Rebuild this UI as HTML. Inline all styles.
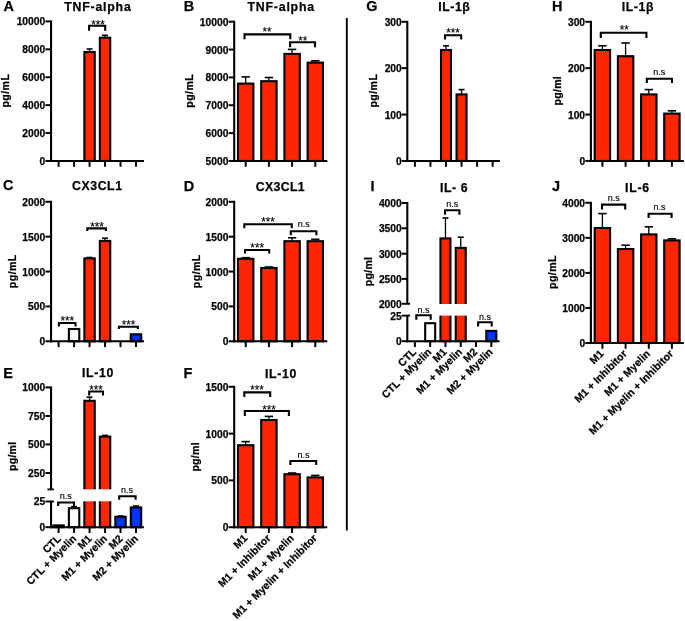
<!DOCTYPE html>
<html>
<head>
<meta charset="utf-8">
<title>Figure</title>
<style>
html,body{margin:0;padding:0;background:#fff;}
body{width:685px;height:621px;overflow:hidden;}
svg{display:block;font-family:"Liberation Sans",sans-serif;fill:#000;}
</style>
</head>
<body>
<svg width="685" height="621" viewBox="0 0 685 621">
<rect x="0" y="0" width="685" height="621" fill="#fff"/>
<g opacity="0.999">
<text x="3.5" y="11.2" font-size="13.8" font-weight="bold" stroke="#000" stroke-width="0.25" textLength="10.46" lengthAdjust="spacingAndGlyphs">A</text>
<text x="97.5" y="11" font-size="12.3" font-weight="bold" stroke="#000" stroke-width="0.25" text-anchor="middle" textLength="66.5" lengthAdjust="spacing">TNF-alpha</text>
<line x1="89.56" y1="49" x2="89.56" y2="52" stroke="#000" stroke-width="1.3" stroke-linecap="butt"/>
<line x1="86.56" y1="49" x2="92.56" y2="49" stroke="#000" stroke-width="1.6" stroke-linecap="butt"/>
<rect x="84.36" y="52" width="10.4" height="108.95" fill="#FF2600" stroke="#000" stroke-width="2.1"/>
<line x1="105.04" y1="35.3" x2="105.04" y2="37.7" stroke="#000" stroke-width="1.3" stroke-linecap="butt"/>
<line x1="102.04" y1="35.3" x2="108.04" y2="35.3" stroke="#000" stroke-width="1.6" stroke-linecap="butt"/>
<rect x="99.84" y="37.7" width="10.4" height="123.25" fill="#FF2600" stroke="#000" stroke-width="2.1"/>
<line x1="51.05" y1="20.4" x2="51.05" y2="162" stroke="#000" stroke-width="2.1" stroke-linecap="butt"/>
<line x1="45.45" y1="160.95" x2="51.05" y2="160.95" stroke="#000" stroke-width="2" stroke-linecap="butt"/>
<text x="45.25" y="164.95" font-size="10.6" font-weight="bold" stroke="#000" stroke-width="0.25" text-anchor="end" textLength="5.72" lengthAdjust="spacingAndGlyphs">0</text>
<line x1="45.45" y1="133.04" x2="51.05" y2="133.04" stroke="#000" stroke-width="2" stroke-linecap="butt"/>
<text x="45.25" y="137.04" font-size="10.6" font-weight="bold" stroke="#000" stroke-width="0.25" text-anchor="end" textLength="22.88" lengthAdjust="spacingAndGlyphs">2000</text>
<line x1="45.45" y1="105.13" x2="51.05" y2="105.13" stroke="#000" stroke-width="2" stroke-linecap="butt"/>
<text x="45.25" y="109.13" font-size="10.6" font-weight="bold" stroke="#000" stroke-width="0.25" text-anchor="end" textLength="22.88" lengthAdjust="spacingAndGlyphs">4000</text>
<line x1="45.45" y1="77.22" x2="51.05" y2="77.22" stroke="#000" stroke-width="2" stroke-linecap="butt"/>
<text x="45.25" y="81.22" font-size="10.6" font-weight="bold" stroke="#000" stroke-width="0.25" text-anchor="end" textLength="22.88" lengthAdjust="spacingAndGlyphs">6000</text>
<line x1="45.45" y1="49.31" x2="51.05" y2="49.31" stroke="#000" stroke-width="2" stroke-linecap="butt"/>
<text x="45.25" y="53.31" font-size="10.6" font-weight="bold" stroke="#000" stroke-width="0.25" text-anchor="end" textLength="22.88" lengthAdjust="spacingAndGlyphs">8000</text>
<line x1="45.45" y1="21.4" x2="51.05" y2="21.4" stroke="#000" stroke-width="2" stroke-linecap="butt"/>
<text x="45.25" y="25.4" font-size="10.6" font-weight="bold" stroke="#000" stroke-width="0.25" text-anchor="end" textLength="28.6" lengthAdjust="spacingAndGlyphs">10000</text>
<line x1="50" y1="160.95" x2="144" y2="160.95" stroke="#000" stroke-width="2.1" stroke-linecap="butt"/>
<line x1="58.6" y1="160.95" x2="58.6" y2="166.75" stroke="#000" stroke-width="2" stroke-linecap="butt"/>
<line x1="74.08" y1="160.95" x2="74.08" y2="166.75" stroke="#000" stroke-width="2" stroke-linecap="butt"/>
<line x1="89.56" y1="160.95" x2="89.56" y2="166.75" stroke="#000" stroke-width="2" stroke-linecap="butt"/>
<line x1="105.04" y1="160.95" x2="105.04" y2="166.75" stroke="#000" stroke-width="2" stroke-linecap="butt"/>
<line x1="120.52" y1="160.95" x2="120.52" y2="166.75" stroke="#000" stroke-width="2" stroke-linecap="butt"/>
<line x1="136" y1="160.95" x2="136" y2="166.75" stroke="#000" stroke-width="2" stroke-linecap="butt"/>
<text font-size="10.6" font-weight="bold" stroke="#000" stroke-width="0.25" text-anchor="middle" textLength="33.5" lengthAdjust="spacing" transform="translate(9.4,90.8) rotate(-90)">pg/mL</text>
<path d="M89.1 30.7 V25.7 H105.2 V30.7" fill="none" stroke="#000" stroke-width="2.1" stroke-linejoin="miter"/>
<text x="98" y="29.05" font-size="12.6" stroke="#000" stroke-width="0.12" text-anchor="middle" textLength="13.71" lengthAdjust="spacingAndGlyphs">***</text>
<text x="183.7" y="11.2" font-size="13.8" font-weight="bold" stroke="#000" stroke-width="0.25" textLength="10.46" lengthAdjust="spacingAndGlyphs">B</text>
<text x="280.8" y="11" font-size="12.3" font-weight="bold" stroke="#000" stroke-width="0.25" text-anchor="middle" textLength="66.5" lengthAdjust="spacing">TNF-alpha</text>
<line x1="245.7" y1="76.9" x2="245.7" y2="83.6" stroke="#000" stroke-width="1.3" stroke-linecap="butt"/>
<line x1="241.5" y1="76.9" x2="249.9" y2="76.9" stroke="#000" stroke-width="1.6" stroke-linecap="butt"/>
<rect x="238" y="83.6" width="15.4" height="77.35" fill="#FF2600" stroke="#000" stroke-width="2.1"/>
<line x1="268.9" y1="77.5" x2="268.9" y2="81.2" stroke="#000" stroke-width="1.3" stroke-linecap="butt"/>
<line x1="264.7" y1="77.5" x2="273.1" y2="77.5" stroke="#000" stroke-width="1.6" stroke-linecap="butt"/>
<rect x="261.2" y="81.2" width="15.4" height="79.75" fill="#FF2600" stroke="#000" stroke-width="2.1"/>
<line x1="292.1" y1="49.4" x2="292.1" y2="53.9" stroke="#000" stroke-width="1.3" stroke-linecap="butt"/>
<line x1="287.9" y1="49.4" x2="296.3" y2="49.4" stroke="#000" stroke-width="1.6" stroke-linecap="butt"/>
<rect x="284.4" y="53.9" width="15.4" height="107.05" fill="#FF2600" stroke="#000" stroke-width="2.1"/>
<line x1="315.3" y1="60.8" x2="315.3" y2="62.6" stroke="#000" stroke-width="1.3" stroke-linecap="butt"/>
<line x1="311.1" y1="60.8" x2="319.5" y2="60.8" stroke="#000" stroke-width="1.6" stroke-linecap="butt"/>
<rect x="307.6" y="62.6" width="15.4" height="98.35" fill="#FF2600" stroke="#000" stroke-width="2.1"/>
<line x1="234.2" y1="20.7" x2="234.2" y2="162" stroke="#000" stroke-width="2.1" stroke-linecap="butt"/>
<line x1="228.6" y1="160.95" x2="234.2" y2="160.95" stroke="#000" stroke-width="2" stroke-linecap="butt"/>
<text x="228.4" y="164.95" font-size="10.6" font-weight="bold" stroke="#000" stroke-width="0.25" text-anchor="end" textLength="22.88" lengthAdjust="spacingAndGlyphs">5000</text>
<line x1="228.6" y1="133.1" x2="234.2" y2="133.1" stroke="#000" stroke-width="2" stroke-linecap="butt"/>
<text x="228.4" y="137.1" font-size="10.6" font-weight="bold" stroke="#000" stroke-width="0.25" text-anchor="end" textLength="22.88" lengthAdjust="spacingAndGlyphs">6000</text>
<line x1="228.6" y1="105.25" x2="234.2" y2="105.25" stroke="#000" stroke-width="2" stroke-linecap="butt"/>
<text x="228.4" y="109.25" font-size="10.6" font-weight="bold" stroke="#000" stroke-width="0.25" text-anchor="end" textLength="22.88" lengthAdjust="spacingAndGlyphs">7000</text>
<line x1="228.6" y1="77.4" x2="234.2" y2="77.4" stroke="#000" stroke-width="2" stroke-linecap="butt"/>
<text x="228.4" y="81.4" font-size="10.6" font-weight="bold" stroke="#000" stroke-width="0.25" text-anchor="end" textLength="22.88" lengthAdjust="spacingAndGlyphs">8000</text>
<line x1="228.6" y1="49.55" x2="234.2" y2="49.55" stroke="#000" stroke-width="2" stroke-linecap="butt"/>
<text x="228.4" y="53.55" font-size="10.6" font-weight="bold" stroke="#000" stroke-width="0.25" text-anchor="end" textLength="22.88" lengthAdjust="spacingAndGlyphs">9000</text>
<line x1="228.6" y1="21.7" x2="234.2" y2="21.7" stroke="#000" stroke-width="2" stroke-linecap="butt"/>
<text x="228.4" y="25.7" font-size="10.6" font-weight="bold" stroke="#000" stroke-width="0.25" text-anchor="end" textLength="28.6" lengthAdjust="spacingAndGlyphs">10000</text>
<line x1="233.15" y1="160.95" x2="327.3" y2="160.95" stroke="#000" stroke-width="2.1" stroke-linecap="butt"/>
<line x1="245.7" y1="160.95" x2="245.7" y2="166.75" stroke="#000" stroke-width="2" stroke-linecap="butt"/>
<line x1="268.9" y1="160.95" x2="268.9" y2="166.75" stroke="#000" stroke-width="2" stroke-linecap="butt"/>
<line x1="292.1" y1="160.95" x2="292.1" y2="166.75" stroke="#000" stroke-width="2" stroke-linecap="butt"/>
<line x1="315.3" y1="160.95" x2="315.3" y2="166.75" stroke="#000" stroke-width="2" stroke-linecap="butt"/>
<text font-size="10.6" font-weight="bold" stroke="#000" stroke-width="0.25" text-anchor="middle" textLength="33.5" lengthAdjust="spacing" transform="translate(193,91) rotate(-90)">pg/mL</text>
<path d="M244.5 39.3 V34.4 H290.3 V39.3" fill="none" stroke="#000" stroke-width="2.1" stroke-linejoin="miter"/>
<text x="267.1" y="36.35" font-size="12.6" stroke="#000" stroke-width="0.12" text-anchor="middle" textLength="9.14" lengthAdjust="spacingAndGlyphs">**</text>
<path d="M290.1 47.2 V42.3 H315 V47.2" fill="none" stroke="#000" stroke-width="2.1" stroke-linejoin="miter"/>
<text x="302.7" y="44.65" font-size="12.6" stroke="#000" stroke-width="0.12" text-anchor="middle" textLength="9.14" lengthAdjust="spacingAndGlyphs">**</text>
<text x="3.1" y="190.2" font-size="13.8" font-weight="bold" stroke="#000" stroke-width="0.25" textLength="10.46" lengthAdjust="spacingAndGlyphs">C</text>
<text x="97" y="190.2" font-size="12.3" font-weight="bold" stroke="#000" stroke-width="0.25" text-anchor="middle" textLength="50" lengthAdjust="spacing">CX3CL1</text>
<rect x="68.88" y="329" width="10.4" height="12.3" fill="#FFFFFF" stroke="#000" stroke-width="2.1"/>
<line x1="89.56" y1="257.5" x2="89.56" y2="258.4" stroke="#000" stroke-width="1.3" stroke-linecap="butt"/>
<line x1="86.56" y1="257.5" x2="92.56" y2="257.5" stroke="#000" stroke-width="1.6" stroke-linecap="butt"/>
<rect x="84.36" y="258.4" width="10.4" height="82.9" fill="#FF2600" stroke="#000" stroke-width="2.1"/>
<line x1="105.04" y1="238.2" x2="105.04" y2="240.9" stroke="#000" stroke-width="1.3" stroke-linecap="butt"/>
<line x1="102.04" y1="238.2" x2="108.04" y2="238.2" stroke="#000" stroke-width="1.6" stroke-linecap="butt"/>
<rect x="99.84" y="240.9" width="10.4" height="100.4" fill="#FF2600" stroke="#000" stroke-width="2.1"/>
<rect x="130.8" y="334.3" width="10.4" height="7" fill="#0433FF" stroke="#000" stroke-width="2.1"/>
<line x1="51.05" y1="200.8" x2="51.05" y2="342.35" stroke="#000" stroke-width="2.1" stroke-linecap="butt"/>
<line x1="45.45" y1="341.3" x2="51.05" y2="341.3" stroke="#000" stroke-width="2" stroke-linecap="butt"/>
<text x="45.25" y="345.3" font-size="10.6" font-weight="bold" stroke="#000" stroke-width="0.25" text-anchor="end" textLength="5.72" lengthAdjust="spacingAndGlyphs">0</text>
<line x1="45.45" y1="306.43" x2="51.05" y2="306.43" stroke="#000" stroke-width="2" stroke-linecap="butt"/>
<text x="45.25" y="310.43" font-size="10.6" font-weight="bold" stroke="#000" stroke-width="0.25" text-anchor="end" textLength="17.16" lengthAdjust="spacingAndGlyphs">500</text>
<line x1="45.45" y1="271.55" x2="51.05" y2="271.55" stroke="#000" stroke-width="2" stroke-linecap="butt"/>
<text x="45.25" y="275.55" font-size="10.6" font-weight="bold" stroke="#000" stroke-width="0.25" text-anchor="end" textLength="22.88" lengthAdjust="spacingAndGlyphs">1000</text>
<line x1="45.45" y1="236.68" x2="51.05" y2="236.68" stroke="#000" stroke-width="2" stroke-linecap="butt"/>
<text x="45.25" y="240.68" font-size="10.6" font-weight="bold" stroke="#000" stroke-width="0.25" text-anchor="end" textLength="22.88" lengthAdjust="spacingAndGlyphs">1500</text>
<line x1="45.45" y1="201.8" x2="51.05" y2="201.8" stroke="#000" stroke-width="2" stroke-linecap="butt"/>
<text x="45.25" y="205.8" font-size="10.6" font-weight="bold" stroke="#000" stroke-width="0.25" text-anchor="end" textLength="22.88" lengthAdjust="spacingAndGlyphs">2000</text>
<line x1="50" y1="341.3" x2="144" y2="341.3" stroke="#000" stroke-width="2.1" stroke-linecap="butt"/>
<line x1="58.6" y1="341.3" x2="58.6" y2="347.1" stroke="#000" stroke-width="2" stroke-linecap="butt"/>
<line x1="74.08" y1="341.3" x2="74.08" y2="347.1" stroke="#000" stroke-width="2" stroke-linecap="butt"/>
<line x1="89.56" y1="341.3" x2="89.56" y2="347.1" stroke="#000" stroke-width="2" stroke-linecap="butt"/>
<line x1="105.04" y1="341.3" x2="105.04" y2="347.1" stroke="#000" stroke-width="2" stroke-linecap="butt"/>
<line x1="120.52" y1="341.3" x2="120.52" y2="347.1" stroke="#000" stroke-width="2" stroke-linecap="butt"/>
<line x1="136" y1="341.3" x2="136" y2="347.1" stroke="#000" stroke-width="2" stroke-linecap="butt"/>
<text font-size="10.6" font-weight="bold" stroke="#000" stroke-width="0.25" text-anchor="middle" textLength="33.5" lengthAdjust="spacing" transform="translate(16.4,271.4) rotate(-90)">pg/mL</text>
<path d="M58.9 326.4 V323 H75.5 V326.4" fill="none" stroke="#000" stroke-width="2.1" stroke-linejoin="miter"/>
<text x="67.3" y="324.95" font-size="12.6" stroke="#000" stroke-width="0.12" text-anchor="middle" textLength="13.71" lengthAdjust="spacingAndGlyphs">***</text>
<path d="M87.3 231 V228.4 H105.9 V231" fill="none" stroke="#000" stroke-width="2.1" stroke-linejoin="miter"/>
<text x="97" y="230.75" font-size="12.6" stroke="#000" stroke-width="0.12" text-anchor="middle" textLength="13.71" lengthAdjust="spacingAndGlyphs">***</text>
<path d="M118.9 329 V326.7 H137.9 V329" fill="none" stroke="#000" stroke-width="2.1" stroke-linejoin="miter"/>
<text x="128.6" y="328.55" font-size="12.6" stroke="#000" stroke-width="0.12" text-anchor="middle" textLength="13.71" lengthAdjust="spacingAndGlyphs">***</text>
<text x="183.7" y="190.8" font-size="13.8" font-weight="bold" stroke="#000" stroke-width="0.25" textLength="10.46" lengthAdjust="spacingAndGlyphs">D</text>
<text x="280.2" y="190.8" font-size="12.3" font-weight="bold" stroke="#000" stroke-width="0.25" text-anchor="middle" textLength="49" lengthAdjust="spacing">CX3CL1</text>
<line x1="245.7" y1="257.7" x2="245.7" y2="258.8" stroke="#000" stroke-width="1.3" stroke-linecap="butt"/>
<line x1="241.5" y1="257.7" x2="249.9" y2="257.7" stroke="#000" stroke-width="1.6" stroke-linecap="butt"/>
<rect x="238" y="258.8" width="15.4" height="82.5" fill="#FF2600" stroke="#000" stroke-width="2.1"/>
<line x1="268.9" y1="267" x2="268.9" y2="268" stroke="#000" stroke-width="1.3" stroke-linecap="butt"/>
<line x1="264.7" y1="267" x2="273.1" y2="267" stroke="#000" stroke-width="1.6" stroke-linecap="butt"/>
<rect x="261.2" y="268" width="15.4" height="73.3" fill="#FF2600" stroke="#000" stroke-width="2.1"/>
<line x1="292.1" y1="237.8" x2="292.1" y2="241.2" stroke="#000" stroke-width="1.3" stroke-linecap="butt"/>
<line x1="287.9" y1="237.8" x2="296.3" y2="237.8" stroke="#000" stroke-width="1.6" stroke-linecap="butt"/>
<rect x="284.4" y="241.2" width="15.4" height="100.1" fill="#FF2600" stroke="#000" stroke-width="2.1"/>
<line x1="315.3" y1="239.3" x2="315.3" y2="241.2" stroke="#000" stroke-width="1.3" stroke-linecap="butt"/>
<line x1="311.1" y1="239.3" x2="319.5" y2="239.3" stroke="#000" stroke-width="1.6" stroke-linecap="butt"/>
<rect x="307.6" y="241.2" width="15.4" height="100.1" fill="#FF2600" stroke="#000" stroke-width="2.1"/>
<line x1="234.2" y1="200.8" x2="234.2" y2="342.35" stroke="#000" stroke-width="2.1" stroke-linecap="butt"/>
<line x1="228.6" y1="341.3" x2="234.2" y2="341.3" stroke="#000" stroke-width="2" stroke-linecap="butt"/>
<text x="228.4" y="345.3" font-size="10.6" font-weight="bold" stroke="#000" stroke-width="0.25" text-anchor="end" textLength="5.72" lengthAdjust="spacingAndGlyphs">0</text>
<line x1="228.6" y1="306.43" x2="234.2" y2="306.43" stroke="#000" stroke-width="2" stroke-linecap="butt"/>
<text x="228.4" y="310.43" font-size="10.6" font-weight="bold" stroke="#000" stroke-width="0.25" text-anchor="end" textLength="17.16" lengthAdjust="spacingAndGlyphs">500</text>
<line x1="228.6" y1="271.55" x2="234.2" y2="271.55" stroke="#000" stroke-width="2" stroke-linecap="butt"/>
<text x="228.4" y="275.55" font-size="10.6" font-weight="bold" stroke="#000" stroke-width="0.25" text-anchor="end" textLength="22.88" lengthAdjust="spacingAndGlyphs">1000</text>
<line x1="228.6" y1="236.68" x2="234.2" y2="236.68" stroke="#000" stroke-width="2" stroke-linecap="butt"/>
<text x="228.4" y="240.68" font-size="10.6" font-weight="bold" stroke="#000" stroke-width="0.25" text-anchor="end" textLength="22.88" lengthAdjust="spacingAndGlyphs">1500</text>
<line x1="228.6" y1="201.8" x2="234.2" y2="201.8" stroke="#000" stroke-width="2" stroke-linecap="butt"/>
<text x="228.4" y="205.8" font-size="10.6" font-weight="bold" stroke="#000" stroke-width="0.25" text-anchor="end" textLength="22.88" lengthAdjust="spacingAndGlyphs">2000</text>
<line x1="233.15" y1="341.3" x2="327.3" y2="341.3" stroke="#000" stroke-width="2.1" stroke-linecap="butt"/>
<line x1="245.7" y1="341.3" x2="245.7" y2="347.1" stroke="#000" stroke-width="2" stroke-linecap="butt"/>
<line x1="268.9" y1="341.3" x2="268.9" y2="347.1" stroke="#000" stroke-width="2" stroke-linecap="butt"/>
<line x1="292.1" y1="341.3" x2="292.1" y2="347.1" stroke="#000" stroke-width="2" stroke-linecap="butt"/>
<line x1="315.3" y1="341.3" x2="315.3" y2="347.1" stroke="#000" stroke-width="2" stroke-linecap="butt"/>
<text font-size="10.6" font-weight="bold" stroke="#000" stroke-width="0.25" text-anchor="middle" textLength="33.5" lengthAdjust="spacing" transform="translate(199.6,271.4) rotate(-90)">pg/mL</text>
<path d="M244.3 228.2 V224.2 H291.8 V228.2" fill="none" stroke="#000" stroke-width="2.1" stroke-linejoin="miter"/>
<text x="268" y="226.35" font-size="12.6" stroke="#000" stroke-width="0.12" text-anchor="middle" textLength="13.71" lengthAdjust="spacingAndGlyphs">***</text>
<path d="M290.8 235.3 V231.3 H316.4 V235.3" fill="none" stroke="#000" stroke-width="2.1" stroke-linejoin="miter"/>
<text x="303.8" y="227" font-size="9" stroke="#000" stroke-width="0.15" text-anchor="middle">n.s</text>
<path d="M245 253.6 V250 H269.2 V253.6" fill="none" stroke="#000" stroke-width="2.1" stroke-linejoin="miter"/>
<text x="257.2" y="252.15" font-size="12.6" stroke="#000" stroke-width="0.12" text-anchor="middle" textLength="13.71" lengthAdjust="spacingAndGlyphs">***</text>
<text x="3.3" y="377.6" font-size="13.8" font-weight="bold" stroke="#000" stroke-width="0.25" textLength="9.66" lengthAdjust="spacingAndGlyphs">E</text>
<text x="97.6" y="377.4" font-size="12.3" font-weight="bold" stroke="#000" stroke-width="0.25" text-anchor="middle" textLength="31.4" lengthAdjust="spacing">IL-10</text>
<rect x="53.4" y="525.4" width="10.4" height="1.8" fill="#000000" stroke="#000" stroke-width="2.1"/>
<line x1="74.08" y1="506.7" x2="74.08" y2="508.2" stroke="#000" stroke-width="1.3" stroke-linecap="butt"/>
<line x1="71.08" y1="506.7" x2="77.08" y2="506.7" stroke="#000" stroke-width="1.6" stroke-linecap="butt"/>
<rect x="68.88" y="508.2" width="10.4" height="19" fill="#FFFFFF" stroke="#000" stroke-width="2.1"/>
<line x1="89.56" y1="397.2" x2="89.56" y2="400.8" stroke="#000" stroke-width="1.3" stroke-linecap="butt"/>
<line x1="86.56" y1="397.2" x2="92.56" y2="397.2" stroke="#000" stroke-width="1.6" stroke-linecap="butt"/>
<rect x="84.36" y="400.8" width="10.4" height="126.4" fill="#FF2600" stroke="#000" stroke-width="2.1"/>
<line x1="105.04" y1="435.4" x2="105.04" y2="436.6" stroke="#000" stroke-width="1.3" stroke-linecap="butt"/>
<line x1="102.04" y1="435.4" x2="108.04" y2="435.4" stroke="#000" stroke-width="1.6" stroke-linecap="butt"/>
<rect x="99.84" y="436.6" width="10.4" height="90.6" fill="#FF2600" stroke="#000" stroke-width="2.1"/>
<line x1="120.52" y1="516" x2="120.52" y2="516.8" stroke="#000" stroke-width="1.3" stroke-linecap="butt"/>
<line x1="117.52" y1="516" x2="123.52" y2="516" stroke="#000" stroke-width="1.6" stroke-linecap="butt"/>
<rect x="115.32" y="516.8" width="10.4" height="10.4" fill="#0433FF" stroke="#000" stroke-width="2.1"/>
<line x1="136" y1="506" x2="136" y2="507.4" stroke="#000" stroke-width="1.3" stroke-linecap="butt"/>
<line x1="133" y1="506" x2="139" y2="506" stroke="#000" stroke-width="1.6" stroke-linecap="butt"/>
<rect x="130.8" y="507.4" width="10.4" height="19.8" fill="#0433FF" stroke="#000" stroke-width="2.1"/>
<rect x="60" y="489.3" width="60" height="12.0" fill="#fff"/>
<line x1="51.05" y1="386.4" x2="51.05" y2="489.2" stroke="#000" stroke-width="2.1" stroke-linecap="butt"/>
<line x1="45.45" y1="387.4" x2="51.05" y2="387.4" stroke="#000" stroke-width="2" stroke-linecap="butt"/>
<text x="45.25" y="391.4" font-size="10.6" font-weight="bold" stroke="#000" stroke-width="0.25" text-anchor="end" textLength="22.88" lengthAdjust="spacingAndGlyphs">1000</text>
<line x1="45.45" y1="416" x2="51.05" y2="416" stroke="#000" stroke-width="2" stroke-linecap="butt"/>
<text x="45.25" y="420" font-size="10.6" font-weight="bold" stroke="#000" stroke-width="0.25" text-anchor="end" textLength="17.16" lengthAdjust="spacingAndGlyphs">750</text>
<line x1="45.45" y1="444.4" x2="51.05" y2="444.4" stroke="#000" stroke-width="2" stroke-linecap="butt"/>
<text x="45.25" y="448.4" font-size="10.6" font-weight="bold" stroke="#000" stroke-width="0.25" text-anchor="end" textLength="17.16" lengthAdjust="spacingAndGlyphs">500</text>
<line x1="45.45" y1="473" x2="51.05" y2="473" stroke="#000" stroke-width="2" stroke-linecap="butt"/>
<text x="45.25" y="477" font-size="10.6" font-weight="bold" stroke="#000" stroke-width="0.25" text-anchor="end" textLength="17.16" lengthAdjust="spacingAndGlyphs">250</text>
<line x1="47.45" y1="489.4" x2="53.85" y2="489.4" stroke="#000" stroke-width="1.9" stroke-linecap="butt"/>
<line x1="51.05" y1="500.8" x2="51.05" y2="528.25" stroke="#000" stroke-width="2.1" stroke-linecap="butt"/>
<line x1="45.45" y1="501.5" x2="53.85" y2="501.5" stroke="#000" stroke-width="1.9" stroke-linecap="butt"/>
<text x="45.25" y="505" font-size="10.6" font-weight="bold" stroke="#000" stroke-width="0.25" text-anchor="end" textLength="11.44" lengthAdjust="spacingAndGlyphs">25</text>
<line x1="45.45" y1="527.2" x2="51.05" y2="527.2" stroke="#000" stroke-width="2" stroke-linecap="butt"/>
<text x="45.25" y="531.2" font-size="10.6" font-weight="bold" stroke="#000" stroke-width="0.25" text-anchor="end" textLength="5.72" lengthAdjust="spacingAndGlyphs">0</text>
<line x1="50" y1="527.2" x2="144" y2="527.2" stroke="#000" stroke-width="2.1" stroke-linecap="butt"/>
<line x1="58.6" y1="527.2" x2="58.6" y2="533" stroke="#000" stroke-width="2" stroke-linecap="butt"/>
<line x1="74.08" y1="527.2" x2="74.08" y2="533" stroke="#000" stroke-width="2" stroke-linecap="butt"/>
<line x1="89.56" y1="527.2" x2="89.56" y2="533" stroke="#000" stroke-width="2" stroke-linecap="butt"/>
<line x1="105.04" y1="527.2" x2="105.04" y2="533" stroke="#000" stroke-width="2" stroke-linecap="butt"/>
<line x1="120.52" y1="527.2" x2="120.52" y2="533" stroke="#000" stroke-width="2" stroke-linecap="butt"/>
<line x1="136" y1="527.2" x2="136" y2="533" stroke="#000" stroke-width="2" stroke-linecap="butt"/>
<text font-size="10.6" font-weight="bold" stroke="#000" stroke-width="0.25" text-anchor="middle" textLength="29.2" lengthAdjust="spacing" transform="translate(15.9,456.4) rotate(-90)">pg/ml</text>
<path d="M89.2 395.5 V391.5 H103 V395.5" fill="none" stroke="#000" stroke-width="2.1" stroke-linejoin="miter"/>
<text x="96.1" y="393.65" font-size="12.6" stroke="#000" stroke-width="0.12" text-anchor="middle" textLength="13.71" lengthAdjust="spacingAndGlyphs">***</text>
<path d="M58.2 506 V502.5 H74 V506" fill="none" stroke="#000" stroke-width="2.1" stroke-linejoin="miter"/>
<text x="65.7" y="498.9" font-size="9" stroke="#000" stroke-width="0.15" text-anchor="middle">n.s</text>
<path d="M119.2 499.8 V496.2 H135.6 V499.8" fill="none" stroke="#000" stroke-width="2.1" stroke-linejoin="miter"/>
<text x="127" y="493.1" font-size="9" stroke="#000" stroke-width="0.15" text-anchor="middle">n.s</text>
<text font-size="10.6" font-weight="bold" stroke="#000" stroke-width="0.25" text-anchor="end" transform="translate(61.5,539.3) rotate(-45)">CTL</text>
<text font-size="10.6" font-weight="bold" stroke="#000" stroke-width="0.25" text-anchor="end" transform="translate(76.98,539.3) rotate(-45)">CTL + Myelin</text>
<text font-size="10.6" font-weight="bold" stroke="#000" stroke-width="0.25" text-anchor="end" transform="translate(92.46,539.3) rotate(-45)">M1</text>
<text font-size="10.6" font-weight="bold" stroke="#000" stroke-width="0.25" text-anchor="end" transform="translate(107.94,539.3) rotate(-45)">M1 + Myelin</text>
<text font-size="10.6" font-weight="bold" stroke="#000" stroke-width="0.25" text-anchor="end" transform="translate(123.42,539.3) rotate(-45)">M2</text>
<text font-size="10.6" font-weight="bold" stroke="#000" stroke-width="0.25" text-anchor="end" transform="translate(138.9,539.3) rotate(-45)">M2 + Myelin</text>
<text x="183.6" y="377.5" font-size="13.8" font-weight="bold" stroke="#000" stroke-width="0.25" textLength="8.85" lengthAdjust="spacingAndGlyphs">F</text>
<text x="280.7" y="377.5" font-size="12.3" font-weight="bold" stroke="#000" stroke-width="0.25" text-anchor="middle" textLength="31.4" lengthAdjust="spacing">IL-10</text>
<line x1="245.7" y1="441.6" x2="245.7" y2="445.2" stroke="#000" stroke-width="1.3" stroke-linecap="butt"/>
<line x1="241.5" y1="441.6" x2="249.9" y2="441.6" stroke="#000" stroke-width="1.6" stroke-linecap="butt"/>
<rect x="238" y="445.2" width="15.4" height="82" fill="#FF2600" stroke="#000" stroke-width="2.1"/>
<line x1="268.9" y1="416.4" x2="268.9" y2="420" stroke="#000" stroke-width="1.3" stroke-linecap="butt"/>
<line x1="264.7" y1="416.4" x2="273.1" y2="416.4" stroke="#000" stroke-width="1.6" stroke-linecap="butt"/>
<rect x="261.2" y="420" width="15.4" height="107.2" fill="#FF2600" stroke="#000" stroke-width="2.1"/>
<line x1="292.1" y1="473" x2="292.1" y2="474.2" stroke="#000" stroke-width="1.3" stroke-linecap="butt"/>
<line x1="287.9" y1="473" x2="296.3" y2="473" stroke="#000" stroke-width="1.6" stroke-linecap="butt"/>
<rect x="284.4" y="474.2" width="15.4" height="53" fill="#FF2600" stroke="#000" stroke-width="2.1"/>
<line x1="315.3" y1="475.4" x2="315.3" y2="477.4" stroke="#000" stroke-width="1.3" stroke-linecap="butt"/>
<line x1="311.1" y1="475.4" x2="319.5" y2="475.4" stroke="#000" stroke-width="1.6" stroke-linecap="butt"/>
<rect x="307.6" y="477.4" width="15.4" height="49.8" fill="#FF2600" stroke="#000" stroke-width="2.1"/>
<line x1="234.2" y1="385.8" x2="234.2" y2="528.25" stroke="#000" stroke-width="2.1" stroke-linecap="butt"/>
<line x1="228.6" y1="527.2" x2="234.2" y2="527.2" stroke="#000" stroke-width="2" stroke-linecap="butt"/>
<text x="228.4" y="531.2" font-size="10.6" font-weight="bold" stroke="#000" stroke-width="0.25" text-anchor="end" textLength="5.72" lengthAdjust="spacingAndGlyphs">0</text>
<line x1="228.6" y1="480.4" x2="234.2" y2="480.4" stroke="#000" stroke-width="2" stroke-linecap="butt"/>
<text x="228.4" y="484.4" font-size="10.6" font-weight="bold" stroke="#000" stroke-width="0.25" text-anchor="end" textLength="17.16" lengthAdjust="spacingAndGlyphs">500</text>
<line x1="228.6" y1="433.6" x2="234.2" y2="433.6" stroke="#000" stroke-width="2" stroke-linecap="butt"/>
<text x="228.4" y="437.6" font-size="10.6" font-weight="bold" stroke="#000" stroke-width="0.25" text-anchor="end" textLength="22.88" lengthAdjust="spacingAndGlyphs">1000</text>
<line x1="228.6" y1="386.8" x2="234.2" y2="386.8" stroke="#000" stroke-width="2" stroke-linecap="butt"/>
<text x="228.4" y="390.8" font-size="10.6" font-weight="bold" stroke="#000" stroke-width="0.25" text-anchor="end" textLength="22.88" lengthAdjust="spacingAndGlyphs">1500</text>
<line x1="233.15" y1="527.2" x2="327.3" y2="527.2" stroke="#000" stroke-width="2.1" stroke-linecap="butt"/>
<line x1="245.7" y1="527.2" x2="245.7" y2="533" stroke="#000" stroke-width="2" stroke-linecap="butt"/>
<line x1="268.9" y1="527.2" x2="268.9" y2="533" stroke="#000" stroke-width="2" stroke-linecap="butt"/>
<line x1="292.1" y1="527.2" x2="292.1" y2="533" stroke="#000" stroke-width="2" stroke-linecap="butt"/>
<line x1="315.3" y1="527.2" x2="315.3" y2="533" stroke="#000" stroke-width="2" stroke-linecap="butt"/>
<text font-size="10.6" font-weight="bold" stroke="#000" stroke-width="0.25" text-anchor="middle" textLength="29.2" lengthAdjust="spacing" transform="translate(199.2,457) rotate(-90)">pg/ml</text>
<path d="M244.3 396.9 V392.4 H270.2 V396.9" fill="none" stroke="#000" stroke-width="2.1" stroke-linejoin="miter"/>
<text x="257" y="394.05" font-size="12.6" stroke="#000" stroke-width="0.12" text-anchor="middle" textLength="13.71" lengthAdjust="spacingAndGlyphs">***</text>
<path d="M244.8 416 V411 H288.9 V416" fill="none" stroke="#000" stroke-width="2.1" stroke-linejoin="miter"/>
<text x="269" y="413.55" font-size="12.6" stroke="#000" stroke-width="0.12" text-anchor="middle" textLength="13.71" lengthAdjust="spacingAndGlyphs">***</text>
<path d="M290.4 465 V461 H316.2 V465" fill="none" stroke="#000" stroke-width="2.1" stroke-linejoin="miter"/>
<text x="303.6" y="458.3" font-size="9" stroke="#000" stroke-width="0.15" text-anchor="middle">n.s</text>
<text font-size="10.6" font-weight="bold" stroke="#000" stroke-width="0.25" text-anchor="end" transform="translate(248.1,538.8) rotate(-45)">M1</text>
<text font-size="10.6" font-weight="bold" stroke="#000" stroke-width="0.25" text-anchor="end" transform="translate(271.3,538.8) rotate(-45)">M1 + Inhibitor</text>
<text font-size="10.6" font-weight="bold" stroke="#000" stroke-width="0.25" text-anchor="end" transform="translate(294.5,538.8) rotate(-45)">M1 + Myelin</text>
<text font-size="10.6" font-weight="bold" stroke="#000" stroke-width="0.25" text-anchor="end" transform="translate(317.7,538.8) rotate(-45)">M1 + Myelin + Inhibitor</text>
<line x1="346.8" y1="18" x2="346.8" y2="530.6" stroke="#000" stroke-width="1.9" stroke-linecap="butt"/>
<text x="366.3" y="11.2" font-size="13.8" font-weight="bold" stroke="#000" stroke-width="0.25" textLength="11.27" lengthAdjust="spacingAndGlyphs">G</text>
<text x="454" y="11" font-size="12.3" font-weight="bold" stroke="#000" stroke-width="0.25" text-anchor="middle" textLength="31.6" lengthAdjust="spacing">IL-1&#946;</text>
<line x1="446" y1="45.8" x2="446" y2="50" stroke="#000" stroke-width="1.3" stroke-linecap="butt"/>
<line x1="443" y1="45.8" x2="449" y2="45.8" stroke="#000" stroke-width="1.6" stroke-linecap="butt"/>
<rect x="441" y="50" width="10" height="110.95" fill="#FF2600" stroke="#000" stroke-width="2.1"/>
<line x1="461.55" y1="89.6" x2="461.55" y2="94.4" stroke="#000" stroke-width="1.3" stroke-linecap="butt"/>
<line x1="458.55" y1="89.6" x2="464.55" y2="89.6" stroke="#000" stroke-width="1.6" stroke-linecap="butt"/>
<rect x="456.55" y="94.4" width="10" height="66.55" fill="#FF2600" stroke="#000" stroke-width="2.1"/>
<line x1="407.3" y1="20.8" x2="407.3" y2="162" stroke="#000" stroke-width="2.1" stroke-linecap="butt"/>
<line x1="401.7" y1="160.95" x2="407.3" y2="160.95" stroke="#000" stroke-width="2" stroke-linecap="butt"/>
<text x="401.8" y="164.95" font-size="10.6" font-weight="bold" stroke="#000" stroke-width="0.25" text-anchor="end" textLength="5.72" lengthAdjust="spacingAndGlyphs">0</text>
<line x1="401.7" y1="114.57" x2="407.3" y2="114.57" stroke="#000" stroke-width="2" stroke-linecap="butt"/>
<text x="401.8" y="118.57" font-size="10.6" font-weight="bold" stroke="#000" stroke-width="0.25" text-anchor="end" textLength="17.16" lengthAdjust="spacingAndGlyphs">100</text>
<line x1="401.7" y1="68.18" x2="407.3" y2="68.18" stroke="#000" stroke-width="2" stroke-linecap="butt"/>
<text x="401.8" y="72.18" font-size="10.6" font-weight="bold" stroke="#000" stroke-width="0.25" text-anchor="end" textLength="17.16" lengthAdjust="spacingAndGlyphs">200</text>
<line x1="401.7" y1="21.8" x2="407.3" y2="21.8" stroke="#000" stroke-width="2" stroke-linecap="butt"/>
<text x="401.8" y="25.8" font-size="10.6" font-weight="bold" stroke="#000" stroke-width="0.25" text-anchor="end" textLength="17.16" lengthAdjust="spacingAndGlyphs">300</text>
<line x1="406.25" y1="160.95" x2="499.9" y2="160.95" stroke="#000" stroke-width="2.1" stroke-linecap="butt"/>
<line x1="414.9" y1="160.95" x2="414.9" y2="166.75" stroke="#000" stroke-width="2" stroke-linecap="butt"/>
<line x1="430.45" y1="160.95" x2="430.45" y2="166.75" stroke="#000" stroke-width="2" stroke-linecap="butt"/>
<line x1="446" y1="160.95" x2="446" y2="166.75" stroke="#000" stroke-width="2" stroke-linecap="butt"/>
<line x1="461.55" y1="160.95" x2="461.55" y2="166.75" stroke="#000" stroke-width="2" stroke-linecap="butt"/>
<line x1="477.1" y1="160.95" x2="477.1" y2="166.75" stroke="#000" stroke-width="2" stroke-linecap="butt"/>
<line x1="492.65" y1="160.95" x2="492.65" y2="166.75" stroke="#000" stroke-width="2" stroke-linecap="butt"/>
<text font-size="10.6" font-weight="bold" stroke="#000" stroke-width="0.25" text-anchor="middle" textLength="33.5" lengthAdjust="spacing" transform="translate(377.2,90.8) rotate(-90)">pg/mL</text>
<path d="M445 39.4 V35.2 H461.2 V39.4" fill="none" stroke="#000" stroke-width="2.1" stroke-linejoin="miter"/>
<text x="453.1" y="37.35" font-size="12.6" stroke="#000" stroke-width="0.12" text-anchor="middle" textLength="13.71" lengthAdjust="spacingAndGlyphs">***</text>
<text x="551.9" y="11.2" font-size="13.8" font-weight="bold" stroke="#000" stroke-width="0.25" textLength="10.46" lengthAdjust="spacingAndGlyphs">H</text>
<text x="637.6" y="11" font-size="12.3" font-weight="bold" stroke="#000" stroke-width="0.25" text-anchor="middle" textLength="31.6" lengthAdjust="spacing">IL-1&#946;</text>
<line x1="602.4" y1="45.8" x2="602.4" y2="50" stroke="#000" stroke-width="1.3" stroke-linecap="butt"/>
<line x1="598.2" y1="45.8" x2="606.6" y2="45.8" stroke="#000" stroke-width="1.6" stroke-linecap="butt"/>
<rect x="594.7" y="50" width="15.4" height="110.95" fill="#FF2600" stroke="#000" stroke-width="2.1"/>
<line x1="625.6" y1="43" x2="625.6" y2="56.2" stroke="#000" stroke-width="1.3" stroke-linecap="butt"/>
<line x1="621.4" y1="43" x2="629.8" y2="43" stroke="#000" stroke-width="1.6" stroke-linecap="butt"/>
<rect x="617.9" y="56.2" width="15.4" height="104.75" fill="#FF2600" stroke="#000" stroke-width="2.1"/>
<line x1="648.8" y1="89.6" x2="648.8" y2="94.4" stroke="#000" stroke-width="1.3" stroke-linecap="butt"/>
<line x1="644.6" y1="89.6" x2="653" y2="89.6" stroke="#000" stroke-width="1.6" stroke-linecap="butt"/>
<rect x="641.1" y="94.4" width="15.4" height="66.55" fill="#FF2600" stroke="#000" stroke-width="2.1"/>
<line x1="671.9" y1="110.8" x2="671.9" y2="113.6" stroke="#000" stroke-width="1.3" stroke-linecap="butt"/>
<line x1="667.7" y1="110.8" x2="676.1" y2="110.8" stroke="#000" stroke-width="1.6" stroke-linecap="butt"/>
<rect x="664.2" y="113.6" width="15.4" height="47.35" fill="#FF2600" stroke="#000" stroke-width="2.1"/>
<line x1="590.9" y1="20.8" x2="590.9" y2="162" stroke="#000" stroke-width="2.1" stroke-linecap="butt"/>
<line x1="585.3" y1="160.95" x2="590.9" y2="160.95" stroke="#000" stroke-width="2" stroke-linecap="butt"/>
<text x="585.1" y="164.95" font-size="10.6" font-weight="bold" stroke="#000" stroke-width="0.25" text-anchor="end" textLength="5.72" lengthAdjust="spacingAndGlyphs">0</text>
<line x1="585.3" y1="114.57" x2="590.9" y2="114.57" stroke="#000" stroke-width="2" stroke-linecap="butt"/>
<text x="585.1" y="118.57" font-size="10.6" font-weight="bold" stroke="#000" stroke-width="0.25" text-anchor="end" textLength="17.16" lengthAdjust="spacingAndGlyphs">100</text>
<line x1="585.3" y1="68.18" x2="590.9" y2="68.18" stroke="#000" stroke-width="2" stroke-linecap="butt"/>
<text x="585.1" y="72.18" font-size="10.6" font-weight="bold" stroke="#000" stroke-width="0.25" text-anchor="end" textLength="17.16" lengthAdjust="spacingAndGlyphs">200</text>
<line x1="585.3" y1="21.8" x2="590.9" y2="21.8" stroke="#000" stroke-width="2" stroke-linecap="butt"/>
<text x="585.1" y="25.8" font-size="10.6" font-weight="bold" stroke="#000" stroke-width="0.25" text-anchor="end" textLength="17.16" lengthAdjust="spacingAndGlyphs">300</text>
<line x1="589.85" y1="160.95" x2="683.8" y2="160.95" stroke="#000" stroke-width="2.1" stroke-linecap="butt"/>
<line x1="602.4" y1="160.95" x2="602.4" y2="166.75" stroke="#000" stroke-width="2" stroke-linecap="butt"/>
<line x1="625.6" y1="160.95" x2="625.6" y2="166.75" stroke="#000" stroke-width="2" stroke-linecap="butt"/>
<line x1="648.8" y1="160.95" x2="648.8" y2="166.75" stroke="#000" stroke-width="2" stroke-linecap="butt"/>
<line x1="671.9" y1="160.95" x2="671.9" y2="166.75" stroke="#000" stroke-width="2" stroke-linecap="butt"/>
<text font-size="10.6" font-weight="bold" stroke="#000" stroke-width="0.25" text-anchor="middle" textLength="29.2" lengthAdjust="spacing" transform="translate(561,90.8) rotate(-90)">pg/ml</text>
<path d="M600.8 38 V32.7 H646.4 V38" fill="none" stroke="#000" stroke-width="2.1" stroke-linejoin="miter"/>
<text x="624.2" y="34.35" font-size="12.6" stroke="#000" stroke-width="0.12" text-anchor="middle" textLength="9.14" lengthAdjust="spacingAndGlyphs">**</text>
<path d="M646.8 83.1 V78.7 H672 V83.1" fill="none" stroke="#000" stroke-width="2.1" stroke-linejoin="miter"/>
<text x="659.2" y="74.7" font-size="9" stroke="#000" stroke-width="0.15" text-anchor="middle">n.s</text>
<text x="370.6" y="191" font-size="13.8" font-weight="bold" stroke="#000" stroke-width="0.25" textLength="4.03" lengthAdjust="spacingAndGlyphs">I</text>
<text x="453.8" y="191.6" font-size="12.3" font-weight="bold" stroke="#000" stroke-width="0.25" text-anchor="middle" textLength="27.6" lengthAdjust="spacing">IL- 6</text>
<rect x="425.18" y="323.2" width="10" height="18" fill="#FFFFFF" stroke="#000" stroke-width="2.1"/>
<line x1="445.46" y1="218" x2="445.46" y2="238.4" stroke="#000" stroke-width="1.3" stroke-linecap="butt"/>
<line x1="442.46" y1="218" x2="448.46" y2="218" stroke="#000" stroke-width="1.6" stroke-linecap="butt"/>
<rect x="440.46" y="238.4" width="10" height="102.8" fill="#FF2600" stroke="#000" stroke-width="2.1"/>
<line x1="460.74" y1="237.2" x2="460.74" y2="247.9" stroke="#000" stroke-width="1.3" stroke-linecap="butt"/>
<line x1="457.74" y1="237.2" x2="463.74" y2="237.2" stroke="#000" stroke-width="1.6" stroke-linecap="butt"/>
<rect x="455.74" y="247.9" width="10" height="93.3" fill="#FF2600" stroke="#000" stroke-width="2.1"/>
<rect x="486.3" y="330.9" width="10" height="10.3" fill="#0433FF" stroke="#000" stroke-width="2.1"/>
<rect x="415" y="304.0" width="70" height="11.6" fill="#fff"/>
<line x1="407.3" y1="202" x2="407.3" y2="303.8" stroke="#000" stroke-width="2.1" stroke-linecap="butt"/>
<line x1="401.7" y1="203" x2="407.3" y2="203" stroke="#000" stroke-width="2" stroke-linecap="butt"/>
<text x="401.8" y="207" font-size="10.6" font-weight="bold" stroke="#000" stroke-width="0.25" text-anchor="end" textLength="22.88" lengthAdjust="spacingAndGlyphs">4000</text>
<line x1="401.7" y1="228.3" x2="407.3" y2="228.3" stroke="#000" stroke-width="2" stroke-linecap="butt"/>
<text x="401.8" y="232.3" font-size="10.6" font-weight="bold" stroke="#000" stroke-width="0.25" text-anchor="end" textLength="22.88" lengthAdjust="spacingAndGlyphs">3500</text>
<line x1="401.7" y1="253.7" x2="407.3" y2="253.7" stroke="#000" stroke-width="2" stroke-linecap="butt"/>
<text x="401.8" y="257.7" font-size="10.6" font-weight="bold" stroke="#000" stroke-width="0.25" text-anchor="end" textLength="22.88" lengthAdjust="spacingAndGlyphs">3000</text>
<line x1="401.7" y1="278.9" x2="407.3" y2="278.9" stroke="#000" stroke-width="2" stroke-linecap="butt"/>
<text x="401.8" y="282.9" font-size="10.6" font-weight="bold" stroke="#000" stroke-width="0.25" text-anchor="end" textLength="22.88" lengthAdjust="spacingAndGlyphs">2500</text>
<line x1="401.7" y1="303.8" x2="410.1" y2="303.8" stroke="#000" stroke-width="1.9" stroke-linecap="butt"/>
<text x="401.8" y="307.8" font-size="10.6" font-weight="bold" stroke="#000" stroke-width="0.25" text-anchor="end" textLength="22.88" lengthAdjust="spacingAndGlyphs">2000</text>
<line x1="407.3" y1="315" x2="407.3" y2="342.25" stroke="#000" stroke-width="2.1" stroke-linecap="butt"/>
<line x1="401.7" y1="315.6" x2="410.1" y2="315.6" stroke="#000" stroke-width="1.9" stroke-linecap="butt"/>
<text x="401.8" y="319.8" font-size="10.6" font-weight="bold" stroke="#000" stroke-width="0.25" text-anchor="end" textLength="11.44" lengthAdjust="spacingAndGlyphs">25</text>
<line x1="401.7" y1="341.2" x2="407.3" y2="341.2" stroke="#000" stroke-width="2" stroke-linecap="butt"/>
<text x="401.8" y="345.2" font-size="10.6" font-weight="bold" stroke="#000" stroke-width="0.25" text-anchor="end" textLength="5.72" lengthAdjust="spacingAndGlyphs">0</text>
<line x1="406.25" y1="341.2" x2="499.6" y2="341.2" stroke="#000" stroke-width="2.1" stroke-linecap="butt"/>
<line x1="414.9" y1="341.2" x2="414.9" y2="347" stroke="#000" stroke-width="2" stroke-linecap="butt"/>
<line x1="430.18" y1="341.2" x2="430.18" y2="347" stroke="#000" stroke-width="2" stroke-linecap="butt"/>
<line x1="445.46" y1="341.2" x2="445.46" y2="347" stroke="#000" stroke-width="2" stroke-linecap="butt"/>
<line x1="460.74" y1="341.2" x2="460.74" y2="347" stroke="#000" stroke-width="2" stroke-linecap="butt"/>
<line x1="476.02" y1="341.2" x2="476.02" y2="347" stroke="#000" stroke-width="2" stroke-linecap="butt"/>
<line x1="491.3" y1="341.2" x2="491.3" y2="347" stroke="#000" stroke-width="2" stroke-linecap="butt"/>
<text font-size="10.6" font-weight="bold" stroke="#000" stroke-width="0.25" text-anchor="middle" textLength="29.2" lengthAdjust="spacing" transform="translate(372.4,271.6) rotate(-90)">pg/ml</text>
<path d="M445 214.7 V210.3 H459.4 V214.7" fill="none" stroke="#000" stroke-width="2.1" stroke-linejoin="miter"/>
<text x="452.2" y="207" font-size="9" stroke="#000" stroke-width="0.15" text-anchor="middle">n.s</text>
<path d="M416.3 319.8 V315.2 H430.7 V319.8" fill="none" stroke="#000" stroke-width="2.1" stroke-linejoin="miter"/>
<text x="423.5" y="312.6" font-size="9" stroke="#000" stroke-width="0.15" text-anchor="middle">n.s</text>
<path d="M478.1 326.5 V322.2 H491.7 V326.5" fill="none" stroke="#000" stroke-width="2.1" stroke-linejoin="miter"/>
<text x="485.1" y="319.6" font-size="9" stroke="#000" stroke-width="0.15" text-anchor="middle">n.s</text>
<text font-size="10.6" font-weight="bold" stroke="#000" stroke-width="0.25" text-anchor="end" transform="translate(416.9,352.6) rotate(-45)">CTL</text>
<text font-size="10.6" font-weight="bold" stroke="#000" stroke-width="0.25" text-anchor="end" transform="translate(432.18,352.6) rotate(-45)">CTL + Myelin</text>
<text font-size="10.6" font-weight="bold" stroke="#000" stroke-width="0.25" text-anchor="end" transform="translate(447.46,352.6) rotate(-45)">M1</text>
<text font-size="10.6" font-weight="bold" stroke="#000" stroke-width="0.25" text-anchor="end" transform="translate(462.74,352.6) rotate(-45)">M1 + Myelin</text>
<text font-size="10.6" font-weight="bold" stroke="#000" stroke-width="0.25" text-anchor="end" transform="translate(478.02,352.6) rotate(-45)">M2</text>
<text font-size="10.6" font-weight="bold" stroke="#000" stroke-width="0.25" text-anchor="end" transform="translate(493.3,352.6) rotate(-45)">M2 + Myelin</text>
<text x="551.9" y="191.2" font-size="13.8" font-weight="bold" stroke="#000" stroke-width="0.25" textLength="8.06" lengthAdjust="spacingAndGlyphs">J</text>
<text x="637.1" y="191.5" font-size="12.3" font-weight="bold" stroke="#000" stroke-width="0.25" text-anchor="middle" textLength="24.2" lengthAdjust="spacing">IL-6</text>
<line x1="602.4" y1="213.6" x2="602.4" y2="228" stroke="#000" stroke-width="1.3" stroke-linecap="butt"/>
<line x1="598.2" y1="213.6" x2="606.6" y2="213.6" stroke="#000" stroke-width="1.6" stroke-linecap="butt"/>
<rect x="594.7" y="228" width="15.4" height="115" fill="#FF2600" stroke="#000" stroke-width="2.1"/>
<line x1="625.6" y1="245.2" x2="625.6" y2="249" stroke="#000" stroke-width="1.3" stroke-linecap="butt"/>
<line x1="621.4" y1="245.2" x2="629.8" y2="245.2" stroke="#000" stroke-width="1.6" stroke-linecap="butt"/>
<rect x="617.9" y="249" width="15.4" height="94" fill="#FF2600" stroke="#000" stroke-width="2.1"/>
<line x1="648.8" y1="226.8" x2="648.8" y2="234.4" stroke="#000" stroke-width="1.3" stroke-linecap="butt"/>
<line x1="644.6" y1="226.8" x2="653" y2="226.8" stroke="#000" stroke-width="1.6" stroke-linecap="butt"/>
<rect x="641.1" y="234.4" width="15.4" height="108.6" fill="#FF2600" stroke="#000" stroke-width="2.1"/>
<line x1="671.9" y1="238.8" x2="671.9" y2="240.4" stroke="#000" stroke-width="1.3" stroke-linecap="butt"/>
<line x1="667.7" y1="238.8" x2="676.1" y2="238.8" stroke="#000" stroke-width="1.6" stroke-linecap="butt"/>
<rect x="664.2" y="240.4" width="15.4" height="102.6" fill="#FF2600" stroke="#000" stroke-width="2.1"/>
<line x1="590.9" y1="201.8" x2="590.9" y2="344.05" stroke="#000" stroke-width="2.1" stroke-linecap="butt"/>
<line x1="585.3" y1="343" x2="590.9" y2="343" stroke="#000" stroke-width="2" stroke-linecap="butt"/>
<text x="585.1" y="347" font-size="10.6" font-weight="bold" stroke="#000" stroke-width="0.25" text-anchor="end" textLength="5.72" lengthAdjust="spacingAndGlyphs">0</text>
<line x1="585.3" y1="307.95" x2="590.9" y2="307.95" stroke="#000" stroke-width="2" stroke-linecap="butt"/>
<text x="585.1" y="311.95" font-size="10.6" font-weight="bold" stroke="#000" stroke-width="0.25" text-anchor="end" textLength="22.88" lengthAdjust="spacingAndGlyphs">1000</text>
<line x1="585.3" y1="272.9" x2="590.9" y2="272.9" stroke="#000" stroke-width="2" stroke-linecap="butt"/>
<text x="585.1" y="276.9" font-size="10.6" font-weight="bold" stroke="#000" stroke-width="0.25" text-anchor="end" textLength="22.88" lengthAdjust="spacingAndGlyphs">2000</text>
<line x1="585.3" y1="237.85" x2="590.9" y2="237.85" stroke="#000" stroke-width="2" stroke-linecap="butt"/>
<text x="585.1" y="241.85" font-size="10.6" font-weight="bold" stroke="#000" stroke-width="0.25" text-anchor="end" textLength="22.88" lengthAdjust="spacingAndGlyphs">3000</text>
<line x1="585.3" y1="202.8" x2="590.9" y2="202.8" stroke="#000" stroke-width="2" stroke-linecap="butt"/>
<text x="585.1" y="206.8" font-size="10.6" font-weight="bold" stroke="#000" stroke-width="0.25" text-anchor="end" textLength="22.88" lengthAdjust="spacingAndGlyphs">4000</text>
<line x1="589.85" y1="343" x2="683.8" y2="343" stroke="#000" stroke-width="2.1" stroke-linecap="butt"/>
<line x1="602.4" y1="343" x2="602.4" y2="348.8" stroke="#000" stroke-width="2" stroke-linecap="butt"/>
<line x1="625.6" y1="343" x2="625.6" y2="348.8" stroke="#000" stroke-width="2" stroke-linecap="butt"/>
<line x1="648.8" y1="343" x2="648.8" y2="348.8" stroke="#000" stroke-width="2" stroke-linecap="butt"/>
<line x1="671.9" y1="343" x2="671.9" y2="348.8" stroke="#000" stroke-width="2" stroke-linecap="butt"/>
<text font-size="10.6" font-weight="bold" stroke="#000" stroke-width="0.25" text-anchor="middle" textLength="33.5" lengthAdjust="spacing" transform="translate(556.2,272.2) rotate(-90)">pg/mL</text>
<path d="M602 209.6 V204.6 H625.2 V209.6" fill="none" stroke="#000" stroke-width="2.1" stroke-linejoin="miter"/>
<text x="613.8" y="201.2" font-size="9" stroke="#000" stroke-width="0.15" text-anchor="middle">n.s</text>
<path d="M648.6 217.9 V213.7 H671.6 V217.9" fill="none" stroke="#000" stroke-width="2.1" stroke-linejoin="miter"/>
<text x="659.6" y="209.6" font-size="9" stroke="#000" stroke-width="0.15" text-anchor="middle">n.s</text>
<text font-size="10.6" font-weight="bold" stroke="#000" stroke-width="0.25" text-anchor="end" transform="translate(604.4,354.4) rotate(-45)">M1</text>
<text font-size="10.6" font-weight="bold" stroke="#000" stroke-width="0.25" text-anchor="end" transform="translate(627.6,354.4) rotate(-45)">M1 + Inhibitor</text>
<text font-size="10.6" font-weight="bold" stroke="#000" stroke-width="0.25" text-anchor="end" transform="translate(650.8,354.4) rotate(-45)">M1 + Myelin</text>
<text font-size="10.6" font-weight="bold" stroke="#000" stroke-width="0.25" text-anchor="end" transform="translate(673.9,354.4) rotate(-45)">M1 + Myelin + Inhibitor</text>
</g>
</svg>
</body>
</html>
